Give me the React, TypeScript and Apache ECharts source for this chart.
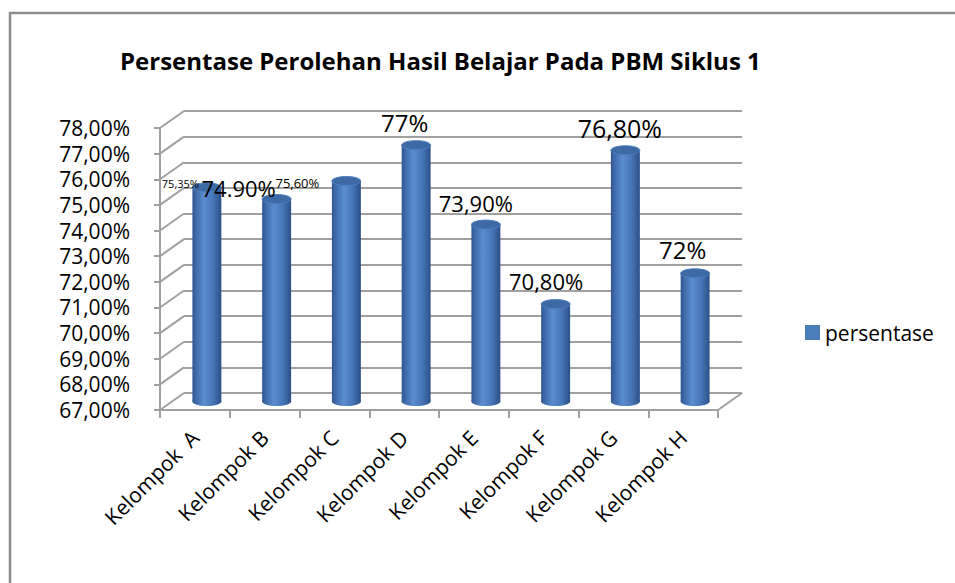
import React, { useEffect, useRef } from "react";
import * as echarts from "echarts";

const categories = [
  "Kelompok  A",
  "Kelompok B",
  "Kelompok C",
  "Kelompok D",
  "Kelompok E",
  "Kelompok F",
  "Kelompok G",
  "Kelompok H",
];
const values = [75.35, 74.9, 75.6, 77, 73.9, 70.8, 76.8, 72];
const valueLabels = ["75,35%", "74.90%", "75,60%", "77%", "73,90%", "70,80%", "76,80%", "72%"];
const yTicks = [67, 68, 69, 70, 71, 72, 73, 74, 75, 76, 77, 78];
const seriesName = "persentase";
const titleText = "Persentase Perolehan Hasil Belajar Pada PBM Siklus 1";

// styling (label placement relative to bar tops, sizes)
const labelDx = [-26.5, -38, -49, -11.5, -10, -9.5, -5.5, -12.5];
const labelDy = [-4, -10.5, 1.5, -22.5, -22, -23, -22.5, -24];
const labelSizes = [11, 22, 13, 24, 22, 22, 25, 24];

const FONT = "'Open Sans', 'DejaVu Sans', sans-serif";
const GRID_COLOR = "#a0a0a0";
const DEPTH_X = 24;
const DEPTH_Y = -17;
const FRONT = { left: 160, top: 128, width: 558, height: 282 };

export default function App() {
  const ref = useRef<HTMLDivElement>(null);
  useEffect(() => {
    if (!ref.current) return;
    const chart = echarts.init(ref.current, undefined, { renderer: "svg" });
    const yMin = yTicks[0];
    const yMax = yTicks[yTicks.length - 1];
    const grids = [0, 1, 2].map((k) => ({
      left: FRONT.left + (k === 1 ? DEPTH_X : k === 2 ? DEPTH_X / 2 : 0),
      top: FRONT.top + (k === 1 ? DEPTH_Y : k === 2 ? DEPTH_Y / 2 : 0),
      width: FRONT.width,
      height: FRONT.height,
      containLabel: false,
      outerBoundsMode: "none",
    }));
    const bodyGrad = () =>
      new echarts.graphic.LinearGradient(0, 0, 1, 0, [
        { offset: 0, color: "#30568c" },
        { offset: 0.12, color: "#3e69a8" },
        { offset: 0.4, color: "#5a8dd0" },
        { offset: 0.7, color: "#4877b8" },
        { offset: 1, color: "#2c5088" },
      ]);
    const option: any = {
      animation: false,
      backgroundColor: "#ffffff",
      title: {
        text: titleText,
        left: 115,
        top: 43,
        textStyle: { fontFamily: FONT, fontSize: 24, fontWeight: "bold", color: "#000" },
      },
      legend: {
        data: [{ name: seriesName, icon: "rect" }],
        left: 805,
        top: 322,
        padding: 0,
        itemWidth: 15,
        itemHeight: 15,
        itemGap: 5,
        textStyle: { fontFamily: FONT, fontSize: 21, color: "#000" },
      },
      grid: grids,
      xAxis: [
        {
          type: "category",
          gridIndex: 0,
          data: categories,
          axisLine: { show: true, lineStyle: { color: GRID_COLOR, width: 2 } },
          axisTick: { show: true, length: 8, lineStyle: { color: GRID_COLOR, width: 2 } },
          axisLabel: {
            rotate: 45,
            margin: 24,
            fontFamily: FONT,
            fontSize: 21,
            color: "#000",
            interval: 0,
          },
          splitLine: { show: false },
        },
        { type: "category", gridIndex: 1, data: categories, show: false },
        { type: "category", gridIndex: 2, data: categories, show: false },
      ],
      yAxis: [
        {
          type: "value",
          gridIndex: 0,
          min: yMin,
          max: yMax,
          interval: 1,
          axisLine: { show: true, lineStyle: { color: GRID_COLOR, width: 2 } },
          axisTick: { show: true, length: 6, lineStyle: { color: GRID_COLOR, width: 2 } },
          axisLabel: {
            margin: 30,
            fontFamily: FONT,
            fontSize: 21,
            lineHeight: 22,
            color: "#000",
            formatter: (v: number) => v.toFixed(2).replace(".", ",") + "%",
          },
          splitLine: { show: false },
        },
        {
          type: "value",
          gridIndex: 1,
          min: yMin,
          max: yMax,
          interval: 1,
          axisLine: { show: false },
          axisTick: { show: false },
          axisLabel: { show: false },
          splitLine: { show: true, lineStyle: { color: GRID_COLOR, width: 2 } },
        },
        {
          type: "value",
          gridIndex: 2,
          min: yMin,
          max: yMax,
          interval: 1,
          show: false,
          splitLine: { show: false },
        },
      ],
      graphic: [
        {
          type: "rect",
          silent: true,
          shape: { x: 10, y: 13, width: 1000, height: 1000 },
          style: { fill: "none", stroke: "#8c8c8c", lineWidth: 2.5 },
          z: 100,
        },
      ],
      series: [
        {
          type: "custom",
          name: "walls",
          xAxisIndex: 0,
          yAxisIndex: 0,
          silent: true,
          z: 1,
          data: yTicks.map((v) => [0, v]),
          encode: { x: 0, y: 1 },
          renderItem: (params: any, api: any) => {
            const v = api.value(1);
            const p = api.coord([0, v]);
            const bw = api.size([1, 0])[0];
            const x0 = p[0] - bw / 2;
            const children: any[] = [
              {
                type: "line",
                shape: { x1: x0, y1: p[1], x2: x0 + DEPTH_X, y2: p[1] + DEPTH_Y },
                style: { stroke: GRID_COLOR, lineWidth: 2 },
              },
            ];
            if (v === yMin) {
              const x1 = x0 + bw * categories.length;
              children.push({
                type: "line",
                shape: { x1: x1, y1: p[1], x2: x1 + DEPTH_X, y2: p[1] + DEPTH_Y },
                style: { stroke: GRID_COLOR, lineWidth: 2 },
              });
            }
            return { type: "group", children };
          },
        },
        {
          type: "custom",
          name: seriesName,
          xAxisIndex: 2,
          yAxisIndex: 2,
          z: 3,
          itemStyle: { color: "#4a7ebb" },
          data: values.map((v, i) => [i, v]),
          encode: { x: 0, y: 1 },
          renderItem: (params: any, api: any) => {
            const idx = params.dataIndex;
            const i = api.value(0);
            const v = api.value(1);
            const top = api.coord([i, v]);
            const base = api.coord([i, yMin]);
            const bw = api.size([1, 0])[0];
            const w = bw * 0.415;
            const rx = w / 2;
            const ry = 4.5;
            return {
              type: "group",
              children: [
                {
                  type: "ellipse",
                  shape: { cx: top[0], cy: base[1], rx, ry },
                  style: { fill: bodyGrad() },
                },
                {
                  type: "rect",
                  shape: { x: top[0] - rx, y: top[1], width: w, height: base[1] - top[1] },
                  style: { fill: bodyGrad() },
                },
                {
                  type: "ellipse",
                  shape: { cx: top[0], cy: top[1], rx, ry },
                  style: { fill: "#3d69a5", stroke: "#5080c0", lineWidth: 1 },
                },
                {
                  type: "text",
                  style: {
                    text: valueLabels[idx],
                    x: top[0] + labelDx[idx],
                    y: top[1] + labelDy[idx],
                    align: "center",
                    verticalAlign: "middle",
                    fontFamily: FONT,
                    fontSize: labelSizes[idx],
                    fill: "#000",
                  },
                },
              ],
            };
          },
        },
      ],
    };
    chart.setOption(option);
    return () => chart.dispose();
  }, []);
  return (
    <div
      ref={ref}
      style={{ position: "absolute", left: 0, top: 0, width: 955, height: 583 }}
    />
  );
}
